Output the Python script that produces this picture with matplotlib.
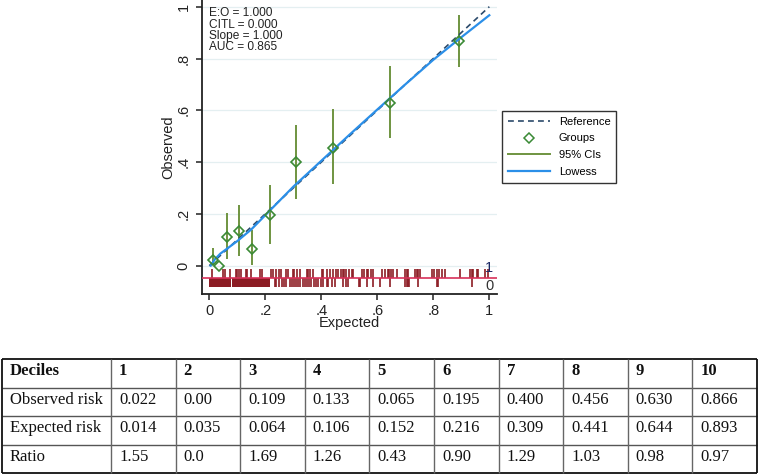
import numpy as np
import matplotlib.pyplot as plt
from matplotlib.lines import Line2D

plt.rcParams['font.family'] = ['Liberation Sans', 'DejaVu Sans']

# table values, as printed under the chart
deciles = ['1', '2', '3', '4', '5', '6', '7', '8', '9', '10']
observed_txt = ['0.022', '0.00', '0.109', '0.133', '0.065', '0.195', '0.400', '0.456', '0.630', '0.866']
expected_txt = ['0.014', '0.035', '0.064', '0.106', '0.152', '0.216', '0.309', '0.441', '0.644', '0.893']
ratio_txt = ['1.55', '0.0', '1.69', '1.26', '0.43', '0.90', '1.29', '1.03', '0.98', '0.97']

observed = [float(v) for v in observed_txt]
expected = [float(v) for v in expected_txt]

# 95% CIs of the groups
ci_low = [0.003, 0.0, 0.025, 0.037, 0.003, 0.083, 0.258, 0.315, 0.492, 0.768]
ci_high = [0.067, 0.0, 0.202, 0.234, 0.138, 0.312, 0.543, 0.604, 0.771, 0.968]

# lowess smoother
lowess_x = [0.005, 0.02, 0.04, 0.06, 0.10, 0.15, 0.20, 0.30, 0.40, 0.50, 0.60, 0.70, 0.80, 0.90, 1.00]
lowess_y = [0.000, 0.025, 0.047, 0.063, 0.095, 0.140, 0.195, 0.305, 0.405, 0.505, 0.603, 0.700, 0.795, 0.882, 0.967]

# rug: expected risk of patients with outcome 1 / outcome 0
rug_one = [0.008, 0.050, 0.057, 0.074, 0.095, 0.100, 0.107, 0.112, 0.131, 0.136, 0.148,
           0.181, 0.188, 0.220, 0.226, 0.240, 0.248, 0.257, 0.274, 0.282, 0.298, 0.302,
           0.312, 0.324, 0.348, 0.354, 0.360, 0.369, 0.401, 0.407, 0.419, 0.431, 0.443,
           0.452, 0.461, 0.470, 0.476, 0.482, 0.490, 0.500, 0.508, 0.514, 0.544, 0.552,
           0.562, 0.568, 0.576, 0.586, 0.615, 0.627, 0.638, 0.643, 0.648, 0.657, 0.669,
           0.699, 0.705, 0.711, 0.735, 0.740, 0.746, 0.752, 0.794, 0.802, 0.812, 0.821,
           0.831, 0.842, 0.895, 0.931, 0.937, 0.943, 0.955, 0.961, 0.985, 0.994]
rug_zero = [0.235, 0.240, 0.250, 0.258, 0.267, 0.274, 0.288, 0.294, 0.302, 0.310, 0.318,
            0.324, 0.333, 0.342, 0.348, 0.357, 0.365, 0.374, 0.381, 0.389, 0.398, 0.407,
            0.419, 0.425, 0.437, 0.449, 0.479, 0.490, 0.496, 0.535, 0.538, 0.564, 0.586,
            0.610, 0.645, 0.700, 0.705, 0.711, 0.714, 0.746, 0.812, 0.818, 0.937]
rug_zero_dense = [(0.0, 0.078), (0.082, 0.217)]

stats_lines = ['E:O = 1.000', 'CITL = 0.000', 'Slope = 1.000', 'AUC = 0.865']

ref_col = '#2b4a6b'
grp_col = '#3a8a35'
ci_col = '#6f9440'
low_col = '#2b8fe8'
rug_col = '#8c1c24'
rugline_col = '#d8305a'
txt_col = '#222222'

W, H = 759, 475
fig = plt.figure(figsize=(W / 100, H / 100), dpi=100)

ax = fig.add_axes([201.7 / W, 1 - 294 / H, 295 / W, 294 / H])
ax.set_xlim(-0.0271, 1.0264)
ax.set_ylim(-0.1093, 1.0259)

for g in [0, 0.2, 0.4, 0.6, 0.8, 1.0]:
    ax.axhline(g, color='#e4eff1', lw=0.9, zorder=0)

ax.plot([0, 1], [0, 1], ls=(0, (3.5, 2.5)), color=ref_col, lw=1.2, zorder=3)
ax.vlines(expected, ci_low, ci_high, color=ci_col, lw=1.4, zorder=2)
ax.plot(expected, observed, ls='none', marker='D', ms=5.5, mfc='none', mec=grp_col, mew=1.2, zorder=4)
ax.plot(lowess_x, lowess_y, color=low_col, lw=1.6, zorder=3)

# rug
ax.vlines(rug_one, -0.014, -0.046, color=rug_col, lw=1.2, zorder=2)
ax.vlines(rug_zero, -0.046, -0.081, color=rug_col, lw=1.2, zorder=2)
for a, b in rug_zero_dense:
    ax.fill_between([a, b], -0.081, -0.046, color=rug_col, lw=0, zorder=2)
ax.axhline(-0.046, color=rugline_col, lw=1.2, zorder=3)
ax.text(1.0, -0.01, '1', color='#1c2a66', fontsize=10.5, ha='center', va='center')
ax.text(1.0, -0.078, '0', color='#333333', fontsize=10.5, ha='center', va='center')

ax.text(0.0, 0.997, '\n'.join(stats_lines), fontsize=8.6, ha='left', va='top',
        linespacing=0.9, color=txt_col)

for s in ['top', 'right']:
    ax.spines[s].set_visible(False)
for s in ['left', 'bottom']:
    ax.spines[s].set_linewidth(1.3)
    ax.spines[s].set_color(txt_col)

ax.set_xticks([0, 0.2, 0.4, 0.6, 0.8, 1])
ax.set_xticklabels(['0', '.2', '.4', '.6', '.8', '1'])
ax.set_yticks([0, 0.2, 0.4, 0.6, 0.8, 1])
ax.set_yticklabels(['0', '.2', '.4', '.6', '.8', '1'], rotation=90, va='center')
ax.tick_params(direction='out', length=4, width=1.1, color=txt_col, labelsize=10.5,
               labelcolor=txt_col)
ax.tick_params(axis='x', pad=3)
ax.tick_params(axis='y', pad=4)
ax.set_xlabel('Expected', fontsize=10.5, color=txt_col, labelpad=-1)
ax.set_ylabel('Observed', fontsize=10.5, color=txt_col, labelpad=1)

handles = [
    Line2D([], [], ls=(0, (3.5, 2.5)), color=ref_col, lw=1.2),
    Line2D([], [], ls='none', marker='D', ms=5, mfc='none', mec=grp_col, mew=1.1),
    Line2D([], [], color=ci_col, lw=1.4),
    Line2D([], [], color=low_col, lw=1.6),
]
leg = fig.legend(handles, ['Reference', 'Groups', '95% CIs', 'Lowess'],
                 loc='upper left', bbox_to_anchor=(502 / W, 1 - 111 / H),
                 borderaxespad=0, fontsize=8, handlelength=3.8, handletextpad=0.8,
                 labelspacing=0.62, borderpad=0.5, fancybox=False, framealpha=1)
leg.get_frame().set_edgecolor('#333333')
leg.get_frame().set_linewidth(1.0)

# table under the chart (pixel coordinates)
tab = fig.add_axes([0, 0, 1, 1], zorder=-1)
tab.set_xlim(0, W)
tab.set_ylim(H, 0)
tab.axis('off')

col_edges = [2, 111] + [111 + 64.6 * i for i in range(1, 11)]
row_edges = [359, 387.5, 416, 444.5, 473]
rows = [['Deciles'] + deciles,
        ['Observed risk'] + observed_txt,
        ['Expected risk'] + expected_txt,
        ['Ratio'] + ratio_txt]

for i, y in enumerate(row_edges):
    outer = i in (0, len(row_edges) - 1)
    tab.plot([col_edges[0], col_edges[-1]], [y, y], color='#111111' if outer else '#555555',
             lw=1.3 if outer else 1.0, solid_capstyle='butt')
for j, x in enumerate(col_edges):
    outer = j in (0, len(col_edges) - 1)
    tab.plot([x, x], [row_edges[0], row_edges[-1]], color='#111111' if outer else '#666666',
             lw=1.3 if outer else 1.0, solid_capstyle='butt')

for r, row in enumerate(rows):
    yc = (row_edges[r] + row_edges[r + 1]) / 2 - 2
    for c, txt in enumerate(row):
        tab.text(col_edges[c] + 8, yc, txt, family='Liberation Serif', fontsize=12,
                 fontweight='bold' if r == 0 else 'normal', ha='left', va='center',
                 color='#111111')

fig.savefig('out.png', dpi=100)
